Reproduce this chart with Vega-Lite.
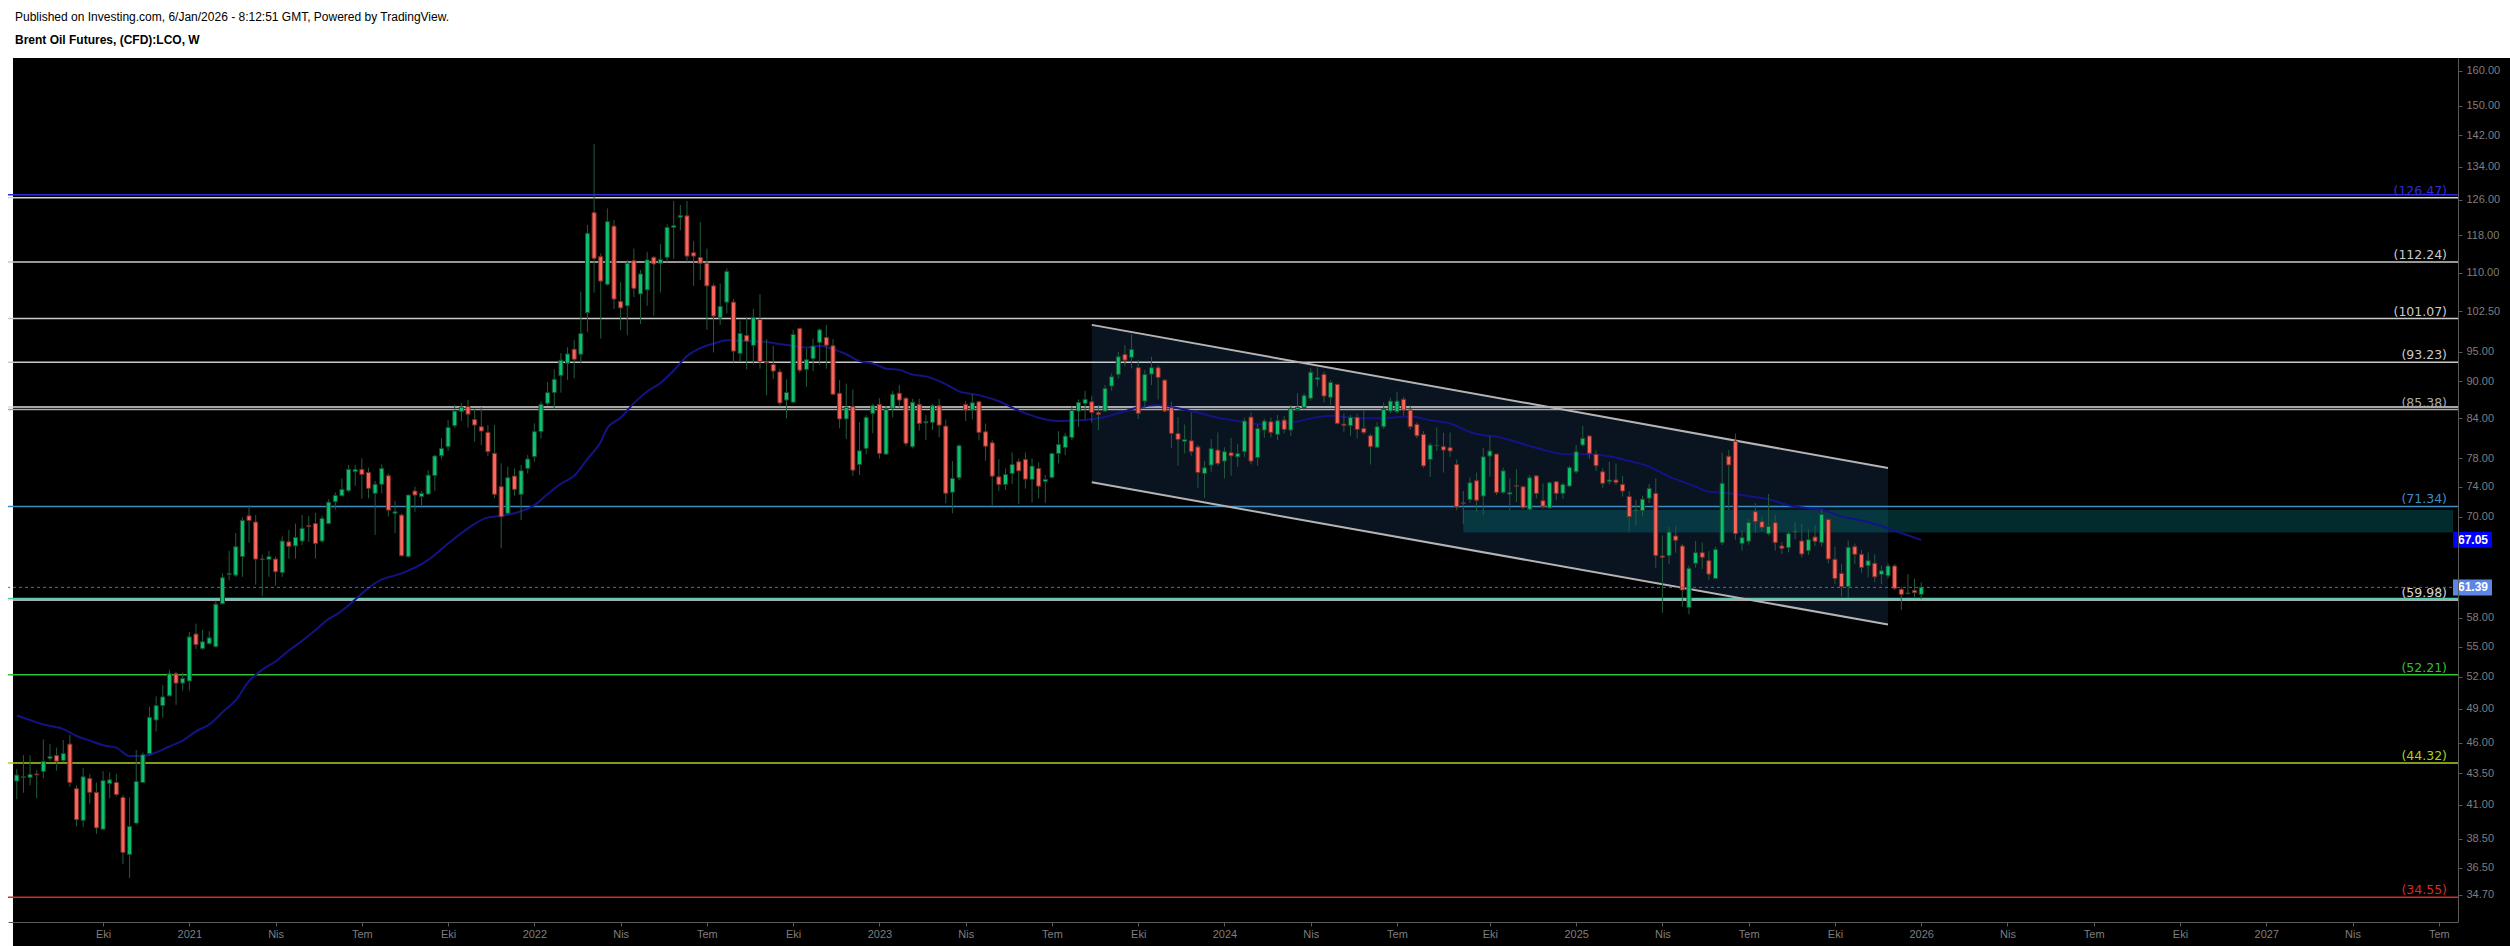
{
"$schema": "https://vega.github.io/schema/vega-lite/v6.json",
"width": 2450,
"height": 864,
"autosize": {"type": "none"},
"padding": {"left": 8, "top": 58, "right": 52, "bottom": 24},
"background": "white",
"config": {"view": {"stroke": null}, "axis": {"grid": false}, "font": "Liberation Sans"},
"title": {"text": "Published on Investing.com, 6/Jan/2026 - 8:12:51 GMT, Powered by TradingView.", "subtitle": "Brent Oil Futures, (CFD):LCO, W", "anchor": "start", "frame": "group", "orient": "top", "offset": 11, "dx": 7, "font": "Liberation Sans", "fontSize": 12, "fontWeight": "normal", "color": "#000000", "subtitleFont": "Liberation Sans", "subtitleFontSize": 12, "subtitleFontWeight": "bold", "subtitleColor": "#000000", "subtitlePadding": 11},
"datasets": {
"candles": [
{"d":"2020-07-06","o":42.86,"h":43.82,"l":41.43,"c":43.34},
{"d":"2020-07-13","o":43.15,"h":44.97,"l":41.94,"c":43.2},
{"d":"2020-07-20","o":43.15,"h":44.97,"l":42.51,"c":43.39},
{"d":"2020-07-27","o":43.42,"h":43.74,"l":41.51,"c":43.36},
{"d":"2020-08-03","o":43.63,"h":46.3,"l":43.07,"c":44.45},
{"d":"2020-08-10","o":44.7,"h":45.9,"l":44.5,"c":44.86},
{"d":"2020-08-17","o":44.94,"h":45.6,"l":43.7,"c":44.47},
{"d":"2020-08-24","o":44.53,"h":46.25,"l":44.4,"c":45.1},
{"d":"2020-08-31","o":45.9,"h":46.7,"l":42.4,"c":42.75},
{"d":"2020-09-07","o":42.26,"h":42.5,"l":39.4,"c":39.9},
{"d":"2020-09-14","o":39.85,"h":43.9,"l":39.35,"c":43.2},
{"d":"2020-09-21","o":43.07,"h":43.44,"l":41.1,"c":41.97},
{"d":"2020-09-28","o":41.97,"h":42.75,"l":38.85,"c":39.3},
{"d":"2020-10-05","o":39.2,"h":43.66,"l":39.2,"c":42.9},
{"d":"2020-10-12","o":42.67,"h":43.55,"l":41.5,"c":42.96},
{"d":"2020-10-19","o":42.75,"h":43.44,"l":41.65,"c":41.8},
{"d":"2020-10-26","o":41.58,"h":41.75,"l":36.75,"c":37.55},
{"d":"2020-11-02","o":37.4,"h":41.58,"l":35.8,"c":39.4},
{"d":"2020-11-09","o":39.65,"h":45.4,"l":39.55,"c":42.83},
{"d":"2020-11-16","o":42.75,"h":45.2,"l":42.75,"c":45.0},
{"d":"2020-11-23","o":45.1,"h":49.2,"l":44.95,"c":48.24},
{"d":"2020-11-30","o":48.0,"h":50.15,"l":47.0,"c":49.3},
{"d":"2020-12-07","o":49.3,"h":51.2,"l":48.2,"c":50.1},
{"d":"2020-12-14","o":50.2,"h":52.7,"l":50.15,"c":52.3},
{"d":"2020-12-21","o":52.3,"h":52.5,"l":49.37,"c":51.4},
{"d":"2020-12-28","o":51.4,"h":52.4,"l":50.7,"c":51.85},
{"d":"2021-01-04","o":51.6,"h":56.5,"l":50.7,"c":56.0},
{"d":"2021-01-11","o":56.3,"h":57.4,"l":54.75,"c":55.2},
{"d":"2021-01-18","o":54.8,"h":56.75,"l":54.65,"c":55.5},
{"d":"2021-01-25","o":55.3,"h":56.6,"l":55.2,"c":55.9},
{"d":"2021-02-01","o":55.0,"h":59.9,"l":54.9,"c":59.5},
{"d":"2021-02-08","o":59.55,"h":63.0,"l":59.5,"c":62.5},
{"d":"2021-02-15","o":62.9,"h":65.7,"l":62.2,"c":63.0},
{"d":"2021-02-22","o":62.8,"h":67.9,"l":62.6,"c":66.2},
{"d":"2021-03-01","o":65.0,"h":69.9,"l":62.6,"c":69.5},
{"d":"2021-03-08","o":70.1,"h":71.5,"l":66.7,"c":69.5},
{"d":"2021-03-15","o":69.3,"h":70.2,"l":61.7,"c":64.7},
{"d":"2021-03-22","o":64.7,"h":65.25,"l":60.4,"c":64.65},
{"d":"2021-03-29","o":64.65,"h":65.7,"l":62.6,"c":65.0},
{"d":"2021-04-05","o":64.7,"h":65.0,"l":61.6,"c":63.2},
{"d":"2021-04-12","o":63.1,"h":67.5,"l":62.6,"c":66.9},
{"d":"2021-04-19","o":66.8,"h":68.3,"l":64.75,"c":66.25},
{"d":"2021-04-26","o":66.3,"h":69.1,"l":64.75,"c":67.35},
{"d":"2021-05-03","o":66.9,"h":70.2,"l":66.4,"c":68.5},
{"d":"2021-05-10","o":68.85,"h":70.1,"l":66.8,"c":68.75},
{"d":"2021-05-17","o":69.1,"h":70.5,"l":64.75,"c":66.6},
{"d":"2021-05-24","o":66.9,"h":70.1,"l":66.7,"c":69.75},
{"d":"2021-05-31","o":69.1,"h":72.3,"l":69.0,"c":71.9},
{"d":"2021-06-07","o":71.96,"h":73.2,"l":70.9,"c":72.8},
{"d":"2021-06-14","o":72.76,"h":75.15,"l":72.72,"c":73.63},
{"d":"2021-06-21","o":73.45,"h":77.04,"l":73.23,"c":76.41},
{"d":"2021-06-28","o":76.1,"h":77.04,"l":74.1,"c":76.41},
{"d":"2021-07-05","o":76.41,"h":77.99,"l":72.37,"c":75.7},
{"d":"2021-07-12","o":75.98,"h":76.65,"l":72.42,"c":73.77},
{"d":"2021-07-19","o":73.09,"h":74.78,"l":67.65,"c":74.32},
{"d":"2021-07-26","o":74.32,"h":77.13,"l":73.09,"c":76.55},
{"d":"2021-08-02","o":75.51,"h":75.84,"l":69.99,"c":70.85},
{"d":"2021-08-09","o":70.42,"h":72.08,"l":67.87,"c":70.63},
{"d":"2021-08-16","o":70.2,"h":70.42,"l":65.0,"c":65.1},
{"d":"2021-08-23","o":65.0,"h":72.9,"l":64.85,"c":72.86},
{"d":"2021-08-30","o":73.41,"h":74.0,"l":70.63,"c":72.86},
{"d":"2021-09-06","o":72.64,"h":73.41,"l":71.15,"c":73.09},
{"d":"2021-09-13","o":73.0,"h":76.3,"l":72.86,"c":75.6},
{"d":"2021-09-20","o":75.55,"h":78.48,"l":73.45,"c":78.33},
{"d":"2021-09-27","o":78.37,"h":80.95,"l":77.85,"c":79.45},
{"d":"2021-10-04","o":79.7,"h":83.76,"l":79.06,"c":82.6},
{"d":"2021-10-11","o":82.86,"h":86.14,"l":82.55,"c":85.13},
{"d":"2021-10-18","o":85.08,"h":86.4,"l":83.6,"c":85.77},
{"d":"2021-10-25","o":85.87,"h":86.94,"l":82.55,"c":84.66},
{"d":"2021-11-01","o":83.81,"h":85.45,"l":80.42,"c":82.96},
{"d":"2021-11-08","o":82.7,"h":85.77,"l":79.92,"c":82.04},
{"d":"2021-11-15","o":81.84,"h":82.96,"l":78.33,"c":78.96},
{"d":"2021-11-22","o":78.72,"h":82.96,"l":72.42,"c":72.96},
{"d":"2021-11-29","o":74.0,"h":77.28,"l":66.0,"c":69.99},
{"d":"2021-12-06","o":70.42,"h":76.8,"l":70.33,"c":75.24},
{"d":"2021-12-13","o":75.47,"h":76.55,"l":72.76,"c":73.63},
{"d":"2021-12-20","o":72.96,"h":77.04,"l":69.56,"c":76.22},
{"d":"2021-12-27","o":76.55,"h":78.48,"l":75.84,"c":77.9},
{"d":"2022-01-03","o":78.24,"h":83.23,"l":77.51,"c":81.95},
{"d":"2022-01-10","o":81.95,"h":86.65,"l":80.91,"c":86.22},
{"d":"2022-01-17","o":86.38,"h":89.86,"l":86.0,"c":88.1},
{"d":"2022-01-24","o":88.1,"h":92.0,"l":85.48,"c":90.31},
{"d":"2022-01-31","o":90.93,"h":94.8,"l":88.1,"c":93.56},
{"d":"2022-02-07","o":93.04,"h":95.85,"l":90.2,"c":94.66},
{"d":"2022-02-14","o":95.49,"h":97.16,"l":90.48,"c":93.73},
{"d":"2022-02-21","o":94.6,"h":106.25,"l":93.04,"c":98.3},
{"d":"2022-02-28","o":102.18,"h":120.25,"l":98.62,"c":118.4},
{"d":"2022-03-07","o":123.02,"h":139.74,"l":106.06,"c":113.03},
{"d":"2022-03-14","o":113.38,"h":114.08,"l":97.4,"c":108.36},
{"d":"2022-03-21","o":107.7,"h":124.0,"l":107.4,"c":121.0},
{"d":"2022-03-28","o":120.0,"h":121.37,"l":102.9,"c":104.8},
{"d":"2022-04-04","o":104.35,"h":108.2,"l":98.9,"c":103.1},
{"d":"2022-04-11","o":103.5,"h":112.7,"l":98.0,"c":112.0},
{"d":"2022-04-18","o":112.55,"h":115.1,"l":105.2,"c":106.9},
{"d":"2022-04-25","o":105.8,"h":110.6,"l":100.06,"c":109.8},
{"d":"2022-05-02","o":106.6,"h":114.4,"l":103.5,"c":112.7},
{"d":"2022-05-09","o":113.24,"h":113.5,"l":101.6,"c":111.85},
{"d":"2022-05-16","o":111.99,"h":116.07,"l":106.1,"c":112.8},
{"d":"2022-05-23","o":113.24,"h":120.4,"l":112.3,"c":119.7},
{"d":"2022-05-30","o":119.7,"h":125.7,"l":112.9,"c":120.1},
{"d":"2022-06-06","o":122.0,"h":124.8,"l":119.1,"c":122.4},
{"d":"2022-06-13","o":122.3,"h":125.7,"l":112.3,"c":113.5},
{"d":"2022-06-20","o":114.2,"h":116.7,"l":107.4,"c":113.5},
{"d":"2022-06-27","o":113.2,"h":120.9,"l":108.57,"c":111.99},
{"d":"2022-07-04","o":111.99,"h":115.1,"l":98.98,"c":107.4},
{"d":"2022-07-11","o":107.4,"h":107.9,"l":94.93,"c":101.55},
{"d":"2022-07-18","o":101.2,"h":107.9,"l":99.9,"c":103.4},
{"d":"2022-07-25","o":104.2,"h":110.9,"l":102.05,"c":110.3},
{"d":"2022-08-01","o":104.2,"h":104.8,"l":93.2,"c":95.16},
{"d":"2022-08-08","o":94.76,"h":100.7,"l":93.3,"c":98.33},
{"d":"2022-08-15","o":97.97,"h":101.4,"l":91.97,"c":96.94},
{"d":"2022-08-22","o":96.17,"h":102.9,"l":92.83,"c":101.3},
{"d":"2022-08-29","o":100.9,"h":105.8,"l":92.1,"c":93.3},
{"d":"2022-09-05","o":93.2,"h":97.3,"l":87.7,"c":93.1},
{"d":"2022-09-12","o":92.83,"h":96.1,"l":90.35,"c":91.7},
{"d":"2022-09-19","o":91.55,"h":92.1,"l":85.85,"c":86.43},
{"d":"2022-09-26","o":86.9,"h":90.3,"l":83.99,"c":88.13},
{"d":"2022-10-03","o":86.55,"h":98.98,"l":86.55,"c":98.15},
{"d":"2022-10-10","o":99.22,"h":99.22,"l":91.45,"c":91.85},
{"d":"2022-10-17","o":91.97,"h":95.63,"l":89.07,"c":93.66},
{"d":"2022-10-24","o":93.84,"h":97.4,"l":91.7,"c":96.05},
{"d":"2022-10-31","o":96.7,"h":99.22,"l":92.7,"c":98.98},
{"d":"2022-11-07","o":97.6,"h":99.9,"l":92.1,"c":96.2},
{"d":"2022-11-14","o":96.1,"h":97.3,"l":87.7,"c":87.84},
{"d":"2022-11-21","o":88.0,"h":90.18,"l":82.45,"c":83.9},
{"d":"2022-11-28","o":83.9,"h":89.6,"l":80.85,"c":85.73},
{"d":"2022-12-05","o":85.85,"h":88.6,"l":75.5,"c":76.3},
{"d":"2022-12-12","o":77.1,"h":83.4,"l":75.6,"c":79.1},
{"d":"2022-12-19","o":79.45,"h":84.5,"l":78.6,"c":84.15},
{"d":"2022-12-26","o":84.78,"h":86.3,"l":81.7,"c":86.0},
{"d":"2023-01-02","o":86.2,"h":87.2,"l":77.97,"c":78.7},
{"d":"2023-01-09","o":78.6,"h":86.0,"l":78.6,"c":85.4},
{"d":"2023-01-16","o":85.57,"h":88.4,"l":84.15,"c":87.84},
{"d":"2023-01-23","o":88.0,"h":89.34,"l":85.7,"c":86.9},
{"d":"2023-01-30","o":87.2,"h":87.3,"l":79.8,"c":80.2},
{"d":"2023-02-06","o":79.69,"h":87.1,"l":79.45,"c":86.55},
{"d":"2023-02-13","o":86.2,"h":87.1,"l":82.1,"c":83.2},
{"d":"2023-02-20","o":83.3,"h":84.5,"l":80.7,"c":83.5},
{"d":"2023-02-27","o":83.37,"h":86.3,"l":82.2,"c":86.0},
{"d":"2023-03-06","o":86.0,"h":87.1,"l":81.1,"c":82.95},
{"d":"2023-03-13","o":82.8,"h":83.8,"l":71.75,"c":73.1},
{"d":"2023-03-20","o":73.24,"h":77.6,"l":70.42,"c":75.15},
{"d":"2023-03-27","o":75.24,"h":80.0,"l":74.92,"c":79.84},
{"d":"2023-04-03","o":86.2,"h":86.73,"l":83.6,"c":85.3},
{"d":"2023-04-10","o":85.3,"h":87.86,"l":83.86,"c":86.46},
{"d":"2023-04-17","o":86.62,"h":86.73,"l":80.67,"c":81.83},
{"d":"2023-04-24","o":81.93,"h":83.2,"l":77.64,"c":79.76},
{"d":"2023-05-01","o":80.27,"h":80.67,"l":71.51,"c":75.46},
{"d":"2023-05-08","o":75.36,"h":77.88,"l":73.43,"c":74.3},
{"d":"2023-05-15","o":74.3,"h":76.54,"l":73.6,"c":75.69},
{"d":"2023-05-22","o":75.83,"h":78.85,"l":74.35,"c":77.11},
{"d":"2023-05-29","o":77.5,"h":77.97,"l":71.65,"c":76.2},
{"d":"2023-06-05","o":77.83,"h":78.85,"l":73.74,"c":75.05},
{"d":"2023-06-12","o":75.0,"h":77.97,"l":71.82,"c":76.88},
{"d":"2023-06-19","o":76.54,"h":77.4,"l":72.4,"c":74.07},
{"d":"2023-06-26","o":74.71,"h":75.6,"l":71.82,"c":75.0},
{"d":"2023-07-03","o":75.28,"h":78.7,"l":75.14,"c":78.7},
{"d":"2023-07-10","o":78.7,"h":82.03,"l":77.26,"c":80.03},
{"d":"2023-07-17","o":79.58,"h":81.78,"l":78.46,"c":81.28},
{"d":"2023-07-24","o":81.07,"h":85.93,"l":80.67,"c":85.25},
{"d":"2023-07-31","o":85.14,"h":87.0,"l":82.69,"c":86.52},
{"d":"2023-08-07","o":86.36,"h":88.41,"l":83.86,"c":87.0},
{"d":"2023-08-14","o":86.62,"h":87.59,"l":83.35,"c":84.93},
{"d":"2023-08-21","o":84.88,"h":86.09,"l":82.19,"c":84.61},
{"d":"2023-08-28","o":85.14,"h":89.35,"l":85.04,"c":88.8},
{"d":"2023-09-04","o":89.18,"h":91.3,"l":88.41,"c":90.73},
{"d":"2023-09-11","o":91.13,"h":95.04,"l":90.45,"c":94.16},
{"d":"2023-09-18","o":94.57,"h":96.22,"l":92.55,"c":93.58},
{"d":"2023-09-25","o":94.04,"h":98.15,"l":92.15,"c":95.45},
{"d":"2023-10-02","o":92.27,"h":93.58,"l":83.88,"c":84.77},
{"d":"2023-10-09","o":86.73,"h":91.87,"l":85.57,"c":91.13},
{"d":"2023-10-16","o":91.18,"h":94.16,"l":89.35,"c":92.27},
{"d":"2023-10-23","o":92.27,"h":92.72,"l":87.0,"c":90.62},
{"d":"2023-10-30","o":90.17,"h":90.34,"l":84.93,"c":85.14},
{"d":"2023-11-06","o":85.68,"h":86.62,"l":79.5,"c":81.68},
{"d":"2023-11-13","o":81.68,"h":84.19,"l":76.93,"c":80.77},
{"d":"2023-11-20","o":80.47,"h":83.04,"l":78.7,"c":80.77},
{"d":"2023-11-27","o":80.57,"h":84.93,"l":78.36,"c":78.96},
{"d":"2023-12-04","o":79.65,"h":79.93,"l":73.84,"c":75.97},
{"d":"2023-12-11","o":75.83,"h":77.59,"l":72.49,"c":76.64},
{"d":"2023-12-18","o":77.02,"h":80.82,"l":76.07,"c":79.41},
{"d":"2023-12-25","o":79.2,"h":81.83,"l":76.93,"c":77.26},
{"d":"2024-01-01","o":77.59,"h":79.6,"l":75.14,"c":78.96},
{"d":"2024-01-08","o":78.8,"h":81.02,"l":75.51,"c":78.36},
{"d":"2024-01-15","o":78.2,"h":80.08,"l":76.78,"c":78.7},
{"d":"2024-01-22","o":78.96,"h":84.09,"l":78.2,"c":83.58},
{"d":"2024-01-29","o":84.19,"h":84.93,"l":77.11,"c":77.59},
{"d":"2024-02-05","o":78.1,"h":83.04,"l":76.93,"c":82.44},
{"d":"2024-02-12","o":82.19,"h":83.94,"l":81.02,"c":83.58},
{"d":"2024-02-19","o":83.47,"h":84.15,"l":81.07,"c":81.83},
{"d":"2024-02-26","o":81.53,"h":84.51,"l":80.67,"c":83.63},
{"d":"2024-03-04","o":83.73,"h":84.36,"l":81.68,"c":82.29},
{"d":"2024-03-11","o":82.19,"h":86.09,"l":81.28,"c":85.56},
{"d":"2024-03-18","o":85.4,"h":87.99,"l":85.3,"c":85.72},
{"d":"2024-03-25","o":85.72,"h":87.99,"l":85.4,"c":87.61},
{"d":"2024-04-01","o":87.18,"h":92.18,"l":86.8,"c":91.5},
{"d":"2024-04-08","o":90.3,"h":92.3,"l":89.08,"c":90.58},
{"d":"2024-04-15","o":91.14,"h":91.61,"l":86.48,"c":87.55},
{"d":"2024-04-22","o":87.34,"h":90.19,"l":86.09,"c":89.8},
{"d":"2024-04-29","o":89.47,"h":89.47,"l":83.06,"c":83.21},
{"d":"2024-05-06","o":83.11,"h":84.77,"l":81.93,"c":82.9},
{"d":"2024-05-13","o":82.85,"h":84.51,"l":81.33,"c":84.15},
{"d":"2024-05-20","o":84.15,"h":84.67,"l":80.92,"c":82.29},
{"d":"2024-05-27","o":82.44,"h":85.3,"l":81.53,"c":81.83},
{"d":"2024-06-03","o":81.33,"h":81.68,"l":77.1,"c":79.7},
{"d":"2024-06-10","o":79.6,"h":83.37,"l":79.6,"c":82.7},
{"d":"2024-06-17","o":82.7,"h":86.53,"l":82.34,"c":85.4},
{"d":"2024-06-24","o":85.14,"h":87.29,"l":84.77,"c":86.74},
{"d":"2024-07-01","o":85.04,"h":88.27,"l":84.77,"c":86.74},
{"d":"2024-07-08","o":87.02,"h":87.45,"l":84.41,"c":85.3},
{"d":"2024-07-15","o":85.3,"h":86.09,"l":82.29,"c":82.7},
{"d":"2024-07-22","o":83.06,"h":83.37,"l":80.92,"c":81.33},
{"d":"2024-07-29","o":81.53,"h":82.03,"l":76.63,"c":76.91},
{"d":"2024-08-05","o":77.83,"h":80.3,"l":75.36,"c":79.95},
{"d":"2024-08-12","o":79.85,"h":82.59,"l":79.07,"c":79.9},
{"d":"2024-08-19","o":79.7,"h":81.78,"l":75.96,"c":79.2},
{"d":"2024-08-26","o":79.55,"h":81.83,"l":78.22,"c":79.07},
{"d":"2024-09-02","o":77.1,"h":77.83,"l":70.83,"c":71.27},
{"d":"2024-09-09","o":71.8,"h":73.4,"l":69.0,"c":71.75},
{"d":"2024-09-16","o":72.24,"h":75.28,"l":71.8,"c":74.54},
{"d":"2024-09-23","o":74.82,"h":75.96,"l":70.62,"c":72.15},
{"d":"2024-09-30","o":72.72,"h":79.55,"l":70.19,"c":78.22},
{"d":"2024-10-07","o":78.32,"h":81.33,"l":75.36,"c":79.07},
{"d":"2024-10-14","o":78.61,"h":78.71,"l":72.86,"c":73.22},
{"d":"2024-10-21","o":73.22,"h":76.67,"l":72.99,"c":76.2},
{"d":"2024-10-28","o":72.99,"h":75.13,"l":70.83,"c":73.22},
{"d":"2024-11-04","o":74.13,"h":76.44,"l":71.93,"c":74.08},
{"d":"2024-11-11","o":73.99,"h":74.13,"l":70.96,"c":71.18},
{"d":"2024-11-18","o":70.96,"h":75.6,"l":70.74,"c":75.23},
{"d":"2024-11-25","o":75.5,"h":75.6,"l":72.4,"c":73.08},
{"d":"2024-12-02","o":72.1,"h":74.45,"l":71.05,"c":71.36},
{"d":"2024-12-09","o":71.14,"h":74.68,"l":71.05,"c":74.54},
{"d":"2024-12-16","o":74.68,"h":74.77,"l":72.15,"c":73.08},
{"d":"2024-12-23","o":73.08,"h":74.54,"l":72.32,"c":74.31},
{"d":"2024-12-30","o":74.08,"h":76.91,"l":73.99,"c":76.67},
{"d":"2025-01-06","o":76.07,"h":79.95,"l":75.82,"c":78.95},
{"d":"2025-01-13","o":79.94,"h":82.82,"l":79.69,"c":80.94},
{"d":"2025-01-20","o":81.29,"h":81.45,"l":77.9,"c":78.72},
{"d":"2025-01-27","o":78.57,"h":79.2,"l":76.17,"c":76.93},
{"d":"2025-02-03","o":76.07,"h":76.55,"l":73.86,"c":74.46},
{"d":"2025-02-10","o":74.69,"h":77.5,"l":74.32,"c":74.92},
{"d":"2025-02-17","o":74.92,"h":77.26,"l":74.23,"c":74.6},
{"d":"2025-02-24","o":74.32,"h":75.48,"l":72.65,"c":73.4},
{"d":"2025-03-03","o":72.65,"h":73.4,"l":68.16,"c":69.99},
{"d":"2025-03-10","o":70.73,"h":72.21,"l":68.8,"c":70.86},
{"d":"2025-03-17","o":70.77,"h":72.74,"l":70.08,"c":72.3},
{"d":"2025-03-24","o":72.43,"h":74.37,"l":71.77,"c":73.77},
{"d":"2025-03-31","o":73.09,"h":75.13,"l":63.67,"c":65.11},
{"d":"2025-04-07","o":65.07,"h":67.61,"l":58.57,"c":64.91},
{"d":"2025-04-14","o":65.11,"h":68.66,"l":64.07,"c":68.03},
{"d":"2025-04-21","o":67.53,"h":68.75,"l":65.47,"c":66.99},
{"d":"2025-04-28","o":66.29,"h":66.58,"l":59.22,"c":61.09},
{"d":"2025-05-05","o":59.15,"h":63.91,"l":58.39,"c":63.6},
{"d":"2025-05-12","o":64.19,"h":66.91,"l":63.67,"c":65.47},
{"d":"2025-05-19","o":65.47,"h":66.7,"l":63.52,"c":64.91},
{"d":"2025-05-26","o":64.51,"h":65.67,"l":62.22,"c":62.92},
{"d":"2025-06-02","o":62.41,"h":66.2,"l":62.33,"c":65.88},
{"d":"2025-06-09","o":66.7,"h":78.82,"l":66.41,"c":74.46},
{"d":"2025-06-16","o":78.29,"h":79.2,"l":70.86,"c":77.04},
{"d":"2025-06-23","o":80.5,"h":81.65,"l":67.07,"c":67.82},
{"d":"2025-06-30","o":66.58,"h":68.24,"l":65.71,"c":67.32},
{"d":"2025-07-07","o":66.87,"h":69.69,"l":66.45,"c":69.26},
{"d":"2025-07-14","o":70.64,"h":71.77,"l":67.95,"c":69.35},
{"d":"2025-07-21","o":69.35,"h":69.99,"l":68.16,"c":68.62},
{"d":"2025-07-28","o":67.82,"h":72.99,"l":67.61,"c":68.75},
{"d":"2025-08-04","o":69.22,"h":70.21,"l":65.71,"c":66.7},
{"d":"2025-08-11","o":66.29,"h":66.78,"l":65.31,"c":66.0},
{"d":"2025-08-18","o":66.08,"h":68.11,"l":65.51,"c":67.82},
{"d":"2025-08-25","o":68.03,"h":69.26,"l":67.11,"c":68.16},
{"d":"2025-09-01","o":66.91,"h":69.05,"l":64.91,"c":65.31},
{"d":"2025-09-08","o":65.71,"h":68.37,"l":65.19,"c":67.07},
{"d":"2025-09-15","o":67.4,"h":68.92,"l":66.29,"c":66.87},
{"d":"2025-09-22","o":66.7,"h":70.95,"l":66.25,"c":70.3},
{"d":"2025-09-29","o":69.65,"h":69.65,"l":64.19,"c":64.71},
{"d":"2025-10-06","o":64.67,"h":66.2,"l":61.76,"c":62.41},
{"d":"2025-10-13","o":63.0,"h":64.11,"l":60.35,"c":61.47},
{"d":"2025-10-20","o":61.47,"h":66.99,"l":60.24,"c":66.12},
{"d":"2025-10-27","o":66.2,"h":66.58,"l":64.11,"c":65.27},
{"d":"2025-11-03","o":65.27,"h":65.79,"l":63.09,"c":63.71},
{"d":"2025-11-10","o":63.91,"h":65.51,"l":62.53,"c":64.51},
{"d":"2025-11-17","o":64.19,"h":65.27,"l":62.03,"c":62.6},
{"d":"2025-11-24","o":62.88,"h":63.91,"l":61.76,"c":63.31},
{"d":"2025-12-01","o":62.72,"h":64.19,"l":62.41,"c":63.87},
{"d":"2025-12-08","o":63.87,"h":64.11,"l":61.09,"c":61.28},
{"d":"2025-12-15","o":61.17,"h":61.47,"l":58.86,"c":60.6},
{"d":"2025-12-22","o":60.67,"h":62.92,"l":60.64,"c":60.75},
{"d":"2025-12-29","o":61.02,"h":62.41,"l":60.28,"c":60.79},
{"d":"2026-01-05","o":60.6,"h":61.96,"l":60.05,"c":61.39}
],
"ma": [
{"d":"2020-07-06","v":48.4},{"d":"2020-07-20","v":48.0},{"d":"2020-08-03","v":47.6},{"d":"2020-08-24","v":47.2},{"d":"2020-09-07","v":46.6},{"d":"2020-09-21","v":46.2},{"d":"2020-10-05","v":45.8},{"d":"2020-10-19","v":45.6},{"d":"2020-11-02","v":44.9},{"d":"2020-11-16","v":44.9},{"d":"2020-11-30","v":45.2},{"d":"2020-12-14","v":45.7},{"d":"2020-12-28","v":46.2},
{"d":"2021-01-11","v":47.0},{"d":"2021-01-25","v":47.6},{"d":"2021-02-08","v":48.7},{"d":"2021-02-22","v":49.8},{"d":"2021-03-08","v":51.6},{"d":"2021-03-22","v":52.7},{"d":"2021-04-05","v":53.5},{"d":"2021-04-19","v":54.6},{"d":"2021-05-03","v":55.6},{"d":"2021-05-17","v":56.7},{"d":"2021-05-31","v":57.9},{"d":"2021-06-07","v":58.3},{"d":"2021-07-26","v":62.3},{"d":"2021-08-16","v":63.0},{"d":"2021-09-13","v":64.6},{"d":"2021-10-04","v":66.6},{"d":"2021-10-25","v":68.5},{"d":"2021-11-15","v":69.9},{"d":"2021-11-29","v":70.1},{"d":"2021-12-20","v":70.7},
{"d":"2022-01-03","v":71.5},{"d":"2022-01-17","v":73.0},{"d":"2022-01-31","v":74.4},{"d":"2022-02-14","v":75.5},{"d":"2022-02-28","v":77.9},{"d":"2022-03-14","v":80.4},{"d":"2022-03-21","v":82.5},{"d":"2022-04-04","v":84.1},{"d":"2022-04-18","v":86.4},{"d":"2022-05-02","v":88.3},{"d":"2022-05-16","v":89.7},{"d":"2022-05-30","v":91.8},{"d":"2022-06-13","v":94.3},{"d":"2022-06-27","v":95.7},{"d":"2022-07-11","v":96.5},{"d":"2022-07-25","v":97.1},{"d":"2022-08-08","v":97.0},{"d":"2022-08-22","v":96.9},{"d":"2022-09-05","v":96.8},{"d":"2022-09-19","v":96.4},{"d":"2022-10-03","v":96.1},{"d":"2022-10-17","v":95.8},{"d":"2022-10-31","v":96.1},{"d":"2022-11-14","v":95.5},{"d":"2022-11-28","v":94.6},{"d":"2022-12-12","v":93.4},{"d":"2022-12-26","v":93.0},
{"d":"2023-01-09","v":92.1},{"d":"2023-01-23","v":91.9},{"d":"2023-02-06","v":91.1},{"d":"2023-02-20","v":90.8},{"d":"2023-03-06","v":90.0},{"d":"2023-03-20","v":88.9},{"d":"2023-03-27","v":88.3},{"d":"2023-04-17","v":87.7},{"d":"2023-05-08","v":86.7},{"d":"2023-05-29","v":85.2},{"d":"2023-06-19","v":84.1},{"d":"2023-07-10","v":83.6},{"d":"2023-07-31","v":83.7},{"d":"2023-08-21","v":84.0},{"d":"2023-09-11","v":84.8},{"d":"2023-10-02","v":85.7},{"d":"2023-10-23","v":86.1},{"d":"2023-11-13","v":85.6},{"d":"2023-12-04","v":84.9},{"d":"2023-12-25","v":84.1},
{"d":"2024-01-15","v":83.6},{"d":"2024-02-05","v":83.1},{"d":"2024-03-11","v":83.3},{"d":"2024-04-01","v":84.0},{"d":"2024-04-22","v":84.4},{"d":"2024-05-13","v":84.1},{"d":"2024-06-03","v":84.0},{"d":"2024-06-24","v":84.1},{"d":"2024-07-15","v":84.3},{"d":"2024-08-05","v":83.7},{"d":"2024-08-26","v":83.2},{"d":"2024-09-16","v":81.9},{"d":"2024-09-30","v":81.4},{"d":"2024-10-14","v":81.2},{"d":"2024-10-28","v":80.7},{"d":"2024-11-18","v":79.8},{"d":"2024-12-09","v":79.0},{"d":"2024-12-23","v":78.6},
{"d":"2025-01-06","v":78.6},{"d":"2025-01-20","v":78.6},{"d":"2025-02-10","v":78.3},{"d":"2025-03-03","v":77.6},{"d":"2025-03-24","v":76.8},{"d":"2025-04-14","v":75.4},{"d":"2025-04-28","v":74.7},{"d":"2025-05-12","v":74.0},{"d":"2025-05-26","v":73.3},{"d":"2025-06-09","v":73.2},{"d":"2025-06-23","v":73.0},{"d":"2025-07-07","v":72.7},{"d":"2025-07-28","v":72.3},{"d":"2025-08-18","v":71.5},{"d":"2025-09-08","v":71.1},{"d":"2025-09-22","v":70.9},{"d":"2025-10-13","v":70.0},{"d":"2025-11-03","v":69.5},{"d":"2025-11-24","v":68.8},{"d":"2025-12-15","v":67.9},{"d":"2026-01-05","v":67.05}
],
"lines": [
{"name":"B126","v":127.2},{"name":"W126","v":126.47},{"name":"L112","v":112.24},{"name":"L101","v":101.07},{"name":"L93","v":93.23},{"name":"L85","v":85.38},{"name":"W85","v":85.8},{"name":"L71","v":71.34},{"name":"W60","v":59.98},{"name":"T60","v":60.15},{"name":"L52","v":52.21},{"name":"L44","v":44.32},{"name":"L34","v":34.55}
],
"labels": [
{"name":"L126","v":126.47,"label":"(126.47)"},{"name":"L112","v":112.24,"label":"(112.24)"},{"name":"L101","v":101.07,"label":"(101.07)"},{"name":"L93","v":93.23,"label":"(93.23)"},{"name":"L85","v":85.38,"label":"(85.38)"},{"name":"L71","v":71.34,"label":"(71.34)"},{"name":"L60","v":59.98,"label":"(59.98)"},{"name":"L52","v":52.21,"label":"(52.21)"},{"name":"L44","v":44.32,"label":"(44.32)"},{"name":"L34","v":34.55,"label":"(34.55)"}
],
"channel": [
{"d":"2023-08-14","up":99.9,"lo":74.6},{"d":"2025-12-01","up":76.6,"lo":57.3}
],
"zone": [
{"start":"2024-09-09","top":70.85,"bottom":67.98}
],
"tags": [
{"name":"MA","v":67.05,"label":"67.05"},{"name":"PX","v":61.39,"label":"61.39"}
]
},
"layer": [
{
"data": {"values": [{}]},
"mark": {"type": "rect", "fill": "#000000"},
"encoding": {
"x": {"datum": {"year": 2020, "month": 7, "date": 2, "utc": true}, "type": "temporal", "title": null,
"scale": {"type": "utc", "nice": false, "domain": [{"year": 2020, "month": 7, "date": 2, "utc": true}, {"year": 2027, "month": 7, "date": 20, "utc": true}]},
"axis": {"orient": "bottom", "zindex": 1, "title": null, "grid": false,
"values": [{"year":2020,"month":10,"date":5,"utc":true},{"year":2021,"month":1,"date":4,"utc":true},{"year":2021,"month":4,"date":5,"utc":true},{"year":2021,"month":7,"date":5,"utc":true},{"year":2021,"month":10,"date":4,"utc":true},{"year":2022,"month":1,"date":3,"utc":true},{"year":2022,"month":4,"date":4,"utc":true},{"year":2022,"month":7,"date":4,"utc":true},{"year":2022,"month":10,"date":3,"utc":true},{"year":2023,"month":1,"date":2,"utc":true},{"year":2023,"month":4,"date":3,"utc":true},{"year":2023,"month":7,"date":3,"utc":true},{"year":2023,"month":10,"date":2,"utc":true},{"year":2024,"month":1,"date":1,"utc":true},{"year":2024,"month":4,"date":1,"utc":true},{"year":2024,"month":7,"date":1,"utc":true},{"year":2024,"month":10,"date":7,"utc":true},{"year":2025,"month":1,"date":6,"utc":true},{"year":2025,"month":4,"date":7,"utc":true},{"year":2025,"month":7,"date":7,"utc":true},{"year":2025,"month":10,"date":6,"utc":true},{"year":2026,"month":1,"date":5,"utc":true},{"year":2026,"month":4,"date":6,"utc":true},{"year":2026,"month":7,"date":6,"utc":true},{"year":2026,"month":10,"date":5,"utc":true},{"year":2027,"month":1,"date":4,"utc":true},{"year":2027,"month":4,"date":5,"utc":true},{"year":2027,"month":7,"date":5,"utc":true}],
"labelExpr": "utcFormat(datum.value,'%m')=='01' ? utcFormat(datum.value,'%Y') : (utcFormat(datum.value,'%m')=='04' ? 'Nis' : (utcFormat(datum.value,'%m')=='07' ? 'Tem' : 'Eki'))",
"labelColor": "#7e7e7e", "labelFont": "Liberation Sans", "labelFontSize": 11, "labelPadding": 2, "labelOverlap": false, "labelFlush": false, "labelBound": false,
"tickColor": "#5a5a5a", "tickSize": 4, "domainColor": "#5a5a5a", "domainWidth": 1}},
"x2": {"datum": {"year": 2029, "month": 1, "date": 1, "utc": true}},
"y": {"datum": 20, "type": "quantitative", "title": null,
"scale": {"type": "log", "nice": false, "domain": [33.0, 163.9]},
"axis": {"orient": "right", "zindex": 1, "title": null, "grid": false,
"values": [160, 150, 142, 134, 126, 118, 110, 102.5, 95, 90, 84, 78, 74, 70, 58, 55, 52, 49, 46, 43.5, 41, 38.5, 36.5, 34.7],
"format": ".2f", "labelColor": "#7e7e7e", "labelFont": "Liberation Sans", "labelFontSize": 11, "labelPadding": 4, "labelOverlap": false, "labelBound": false,
"tickColor": "#5a5a5a", "tickSize": 4, "domainColor": "#5a5a5a", "domainWidth": 1}},
"y2": {"datum": 163.9}
}
},
{
"data": {"name": "channel"},
"mark": {"type": "area", "fill": "#0a1320", "opacity": 1},
"encoding": {
"x": {"field": "d", "type": "temporal", "title": null, "scale": {"type": "utc", "nice": false}},
"y": {"field": "up", "type": "quantitative", "title": null, "scale": {"type": "log", "nice": false}},
"y2": {"field": "lo"}
}
},
{
"data": {"name": "zone"},
"mark": {"type": "rect", "fill": "#038e91", "opacity": 0.3},
"encoding": {
"x": {"field": "start", "type": "temporal", "title": null, "scale": {"type": "utc", "nice": false}},
"x2": {"datum": {"year": 2027, "month": 7, "date": 20, "utc": true}},
"y": {"field": "top", "type": "quantitative", "title": null, "scale": {"type": "log", "nice": false}},
"y2": {"field": "bottom"}
}
},
{
"data": {"name": "lines"},
"mark": {"type": "rule", "strokeWidth": 1.5},
"encoding": {
"y": {"field": "v", "type": "quantitative", "title": null, "scale": {"type": "log", "nice": false}},
"color": {"field": "name", "type": "nominal", "legend": null,
"scale": {"domain": ["B126","W126","L112","L101","L93","L85","W85","L71","W60","T60","L52","L44","L34"],
"range": ["#2c2cdc","#d6d6d6","#cacaca","#cacaca","#cacaca","#a9a9a9","#dedede","#3b8ec2","#e4e4e4","#5cc8b4","#33c133","#a6d21c","#d42a2a"]}}
}
},
{
"data": {"name": "labels"},
"mark": {"type": "text", "align": "right", "baseline": "alphabetic", "dx": -6, "dy": -3, "font": "DejaVu Sans", "fontSize": 12.5},
"encoding": {
"x": {"datum": {"year": 2027, "month": 7, "date": 20, "utc": true}, "type": "temporal"},
"y": {"field": "v", "type": "quantitative", "title": null, "scale": {"type": "log", "nice": false}},
"text": {"field": "label"},
"color": {"field": "name", "type": "nominal", "legend": null,
"scale": {"domain": ["L126","L112","L101","L93","L85","L71","L60","L52","L44","L34"],
"range": ["#8282ea","#d2d2d2","#d2d2d2","#d2d2d2","#c2c2c2","#3d95c9","#86d8ca","#36c436","#a4cd1f","#aa2c2c"]}}
}
},
{
"data": {"name": "channel"},
"mark": {"type": "line", "stroke": "#b4b4b4", "strokeWidth": 2},
"encoding": {
"x": {"field": "d", "type": "temporal", "title": null, "scale": {"type": "utc", "nice": false}},
"y": {"field": "up", "type": "quantitative", "title": null, "scale": {"type": "log", "nice": false}}
}
},
{
"data": {"name": "channel"},
"mark": {"type": "line", "stroke": "#b4b4b4", "strokeWidth": 2},
"encoding": {
"x": {"field": "d", "type": "temporal", "title": null, "scale": {"type": "utc", "nice": false}},
"y": {"field": "lo", "type": "quantitative", "title": null, "scale": {"type": "log", "nice": false}}
}
},
{
"data": {"name": "ma"},
"mark": {"type": "line", "stroke": "#131386", "strokeWidth": 2, "interpolate": "monotone"},
"encoding": {
"x": {"field": "d", "type": "temporal", "title": null, "scale": {"type": "utc", "nice": false}},
"y": {"field": "v", "type": "quantitative", "title": null, "scale": {"type": "log", "nice": false}}
}
},
{
"data": {"name": "candles"},
"mark": {"type": "rule", "stroke": "#235c3d", "strokeWidth": 1},
"encoding": {
"x": {"field": "d", "type": "temporal", "title": null, "scale": {"type": "utc", "nice": false}},
"y": {"field": "l", "type": "quantitative", "title": null, "scale": {"type": "log", "nice": false}},
"y2": {"field": "h"}
}
},
{
"data": {"name": "candles"},
"mark": {"type": "bar", "width": 4, "strokeWidth": 1},
"encoding": {
"x": {"field": "d", "type": "temporal", "title": null, "scale": {"type": "utc", "nice": false}},
"y": {"field": "o", "type": "quantitative", "title": null, "scale": {"type": "log", "nice": false}},
"y2": {"field": "c"},
"fill": {"condition": {"test": "datum.c >= datum.o", "value": "#0ac26e"}, "value": "#f6665b"},
"stroke": {"condition": {"test": "datum.c >= datum.o", "value": "#1a4a30"}, "value": "#7a2a25"}
}
},
{
"data": {"values": [{}]},
"mark": {"type": "rule", "stroke": "#3f63f5", "strokeWidth": 1, "strokeDash": [3, 3]},
"encoding": {
"y": {"datum": 61.39, "type": "quantitative", "scale": {"type": "log", "nice": false}}
}
},
{
"data": {"name": "tags"},
"mark": {"type": "rect", "x2Offset": 39, "yOffset": -8, "y2Offset": 8},
"encoding": {
"x": {"datum": {"year": 2027, "month": 7, "date": 20, "utc": true}, "type": "temporal"},
"x2": {"datum": {"year": 2027, "month": 7, "date": 20, "utc": true}},
"y": {"field": "v", "type": "quantitative", "title": null, "scale": {"type": "log", "nice": false}},
"y2": {"field": "v"},
"fill": {"field": "name", "type": "nominal", "legend": null, "scale": {"domain": ["MA", "PX"], "range": ["#0000ff", "#5b86e5"]}}
}
},
{
"data": {"name": "tags"},
"mark": {"type": "text", "dx": 20, "align": "center", "baseline": "middle", "font": "Liberation Sans", "fontSize": 12, "fontWeight": "bold", "color": "#ffffff"},
"encoding": {
"x": {"datum": {"year": 2027, "month": 7, "date": 20, "utc": true}, "type": "temporal"},
"y": {"field": "v", "type": "quantitative", "title": null, "scale": {"type": "log", "nice": false}},
"text": {"field": "label"}
}
}
]
}
